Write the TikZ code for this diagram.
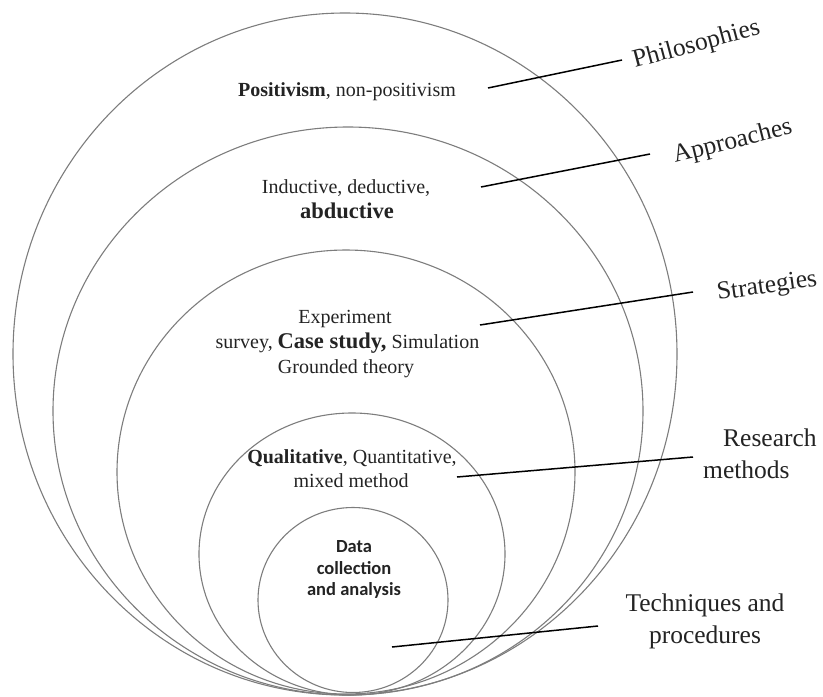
\documentclass[tikz,border=0pt]{standalone}
\usepackage{fontspec}
\setmainfont{Liberation Serif}
\newfontfamily\datafont{Carlito}
\usetikzlibrary{shapes.geometric}
\definecolor{ringgray}{RGB}{125,125,125}
\definecolor{ink}{RGB}{35,35,35}
\begin{document}
\begin{tikzpicture}[x=1pt,y=-1pt,
  ring/.style={draw=ringgray, line width=1.1pt, ellipse, inner sep=0pt, outer sep=0pt},
  lead/.style={draw=black, line width=1.5pt},
  ringtext/.style={font=\fontsize{20}{24}\selectfont, text=ink, inner sep=0pt, anchor=base},
  datatext/.style={font=\datafont\bfseries\fontsize{18.5}{22}\selectfont, text=ink, inner sep=0pt, anchor=base},
  tag/.style={font=\fontsize{25.5}{32}\selectfont, text=ink, inner sep=0pt}]
\useasboundingbox (0,0) rectangle (823,697);

% nested layers, all touching at the bottom
\node[ring, minimum width=664pt, minimum height=682pt] (philo) at (345,354) {};
\node[ring, minimum width=590pt, minimum height=568pt] (appr)  at (348,411) {};
\node[ring, minimum width=458pt, minimum height=444pt] (strat) at (346,472) {};
\node[ring, minimum width=306pt, minimum height=282pt] (meth)  at (352,554) {};
\node[ring, minimum width=190pt, minimum height=185pt] (tech)  at (353,600) {};

% contents of each layer
\node[ringtext] (tphilo) at (347,96) {\textbf{Positivism}, non-positivism};
\node[ringtext] (tappr1) at (346,193) {Inductive, deductive,};
\node[ringtext] (tappr2) at (347,218) {\fontsize{22.5}{26}\selectfont\textbf{abductive}};
\node[ringtext] (tstrat1) at (345,323) {Experiment};
\node[ringtext] (tstrat2) at (347.5,348) {survey, {\fontsize{22.5}{26}\selectfont\textbf{Case study,}} Simulation};
\node[ringtext] (tstrat3) at (346,373) {Grounded theory};
\node[ringtext] (tmeth1) at (352,463) {\textbf{Qualitative}, Quantitative,};
\node[ringtext] (tmeth2) at (351,487) {mixed method};
\node[datatext] (ttech1) at (354,552) {Data};
\node[datatext] (ttech2) at (354,574) {collection};
\node[datatext] (ttech3) at (354,595) {and analysis};

% layer names
\node[tag, rotate=15, anchor=base west] (lphilo) at (635,68) {Philosophies};
\node[tag, rotate=14, anchor=base west] (lappr) at (675,163) {Approaches};
\node[tag, rotate=8, anchor=base west] (lstrat) at (718,300) {Strategies};
\node[tag, align=left, anchor=west] (lmeth) at (703,453.5) {\hspace*{20pt}Research\\methods};
\node[tag, align=center] (ltech) at (705,621) {Techniques and\\procedures};

% leader lines
\coordinate (a1) at (488,88);  \coordinate (b1) at (622,60);
\coordinate (a2) at (481,187); \coordinate (b2) at (650,154);
\coordinate (a3) at (480,325); \coordinate (b3) at (693,292);
\coordinate (a4) at (457,477); \coordinate (b4) at (693,457);
\coordinate (a5) at (392,647); \coordinate (b5) at (598,626);
\draw[lead] (a1) -- (b1);
\draw[lead] (a2) -- (b2);
\draw[lead] (a3) -- (b3);
\draw[lead] (a4) -- (b4);
\draw[lead] (a5) -- (b5);
\end{tikzpicture}
\end{document}
